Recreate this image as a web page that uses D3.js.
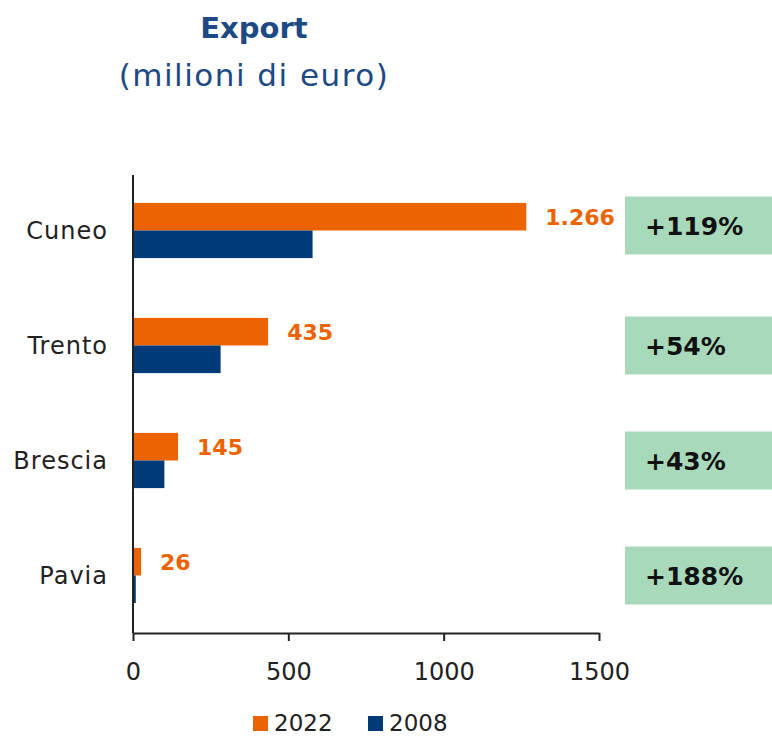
<!DOCTYPE html>
<html>
<head>
<meta charset="utf-8">
<script src="https://cdn.jsdelivr.net/npm/d3@7"></script>
<style>
  body { margin: 0; background: #fff; }
  svg text { font-family: "DejaVu Sans", sans-serif; }
</style>
</head>
<body>
<svg width="772" height="736"></svg>
<script>
let province = ["Cuneo", "Trento", "Brescia", "Pavia"];
let export2022 = [1266, 435, 145, 26];
let export2008 = [578, 282, 101, 9];
let valueLabels = ["1.266", "435", "145", "26"];
let growth = ["+119%", "+54%", "+43%", "+188%"];
let xTicks = [0, 500, 1000, 1500];
let series = ["2022", "2008"];
let colors = {"2022": "#ec6401", "2008": "#003a78"};

let svg = d3.select("svg");

let x = d3.scaleLinear().domain([0, 1500]).range([133, 599]);
let y = d3.scaleBand().domain(province).range([173, 633]).paddingInner(0.52).paddingOuter(0.26);
let sub = d3.scaleBand().domain(series).range([0, y.bandwidth()]);

// title
svg.append("text").attr("x", 254).attr("y", 38)
  .attr("text-anchor", "middle").style("font-size", "29px").style("font-weight", "bold")
  .style("fill", "#1d4a84").text("Export");
svg.append("text").attr("x", 254).attr("y", 86)
  .attr("text-anchor", "middle").style("font-size", "31px").style("letter-spacing", "1.5px")
  .style("fill", "#1d4a84").text("(milioni di euro)");

// green boxes with growth
let rows = province.map((p, i) => ({p: p, v22: export2022[i], v08: export2008[i], lab: valueLabels[i], g: growth[i]}));

let g = svg.append("g");
g.selectAll("rect.box").data(rows).join("rect")
  .attr("class", "box")
  .attr("x", 625).attr("width", 150)
  .attr("y", d => y(d.p) + y.bandwidth()/2 - 29 - (d.p == "Cuneo" ? 5 : 0))
  .attr("height", 58)
  .style("fill", "#a9d9bb");
g.selectAll("text.pct").data(rows).join("text")
  .attr("class", "pct")
  .attr("x", 645)
  .attr("y", d => y(d.p) + y.bandwidth()/2 - (d.p == "Cuneo" ? 5 : 0))
  .attr("dy", "0.36em")
  .style("font-size", "25px").style("font-weight", "bold").style("fill", "#111")
  .text(d => d.g);

// bars
g.selectAll("rect.b22").data(rows).join("rect")
  .attr("class", "b22")
  .attr("x", x(0)).attr("y", d => y(d.p) + sub("2022"))
  .attr("width", d => x(d.v22) - x(0)).attr("height", sub.bandwidth())
  .style("fill", colors["2022"]);
g.selectAll("rect.b08").data(rows).join("rect")
  .attr("class", "b08")
  .attr("x", x(0)).attr("y", d => y(d.p) + sub("2008"))
  .attr("width", d => x(d.v08) - x(0)).attr("height", sub.bandwidth())
  .style("fill", colors["2008"]);

// value labels
g.selectAll("text.val").data(rows).join("text")
  .attr("class", "val")
  .attr("x", d => x(d.v22) + 19)
  .attr("y", d => y(d.p) + sub("2022") + sub.bandwidth()/2)
  .attr("dy", "0.36em")
  .style("font-size", "22px").style("font-weight", "bold").style("fill", colors["2022"])
  .text(d => d.lab);

// category labels
g.selectAll("text.cat").data(rows).join("text")
  .attr("class", "cat")
  .attr("x", 108).attr("y", d => y(d.p) + y.bandwidth()/2)
  .attr("dy", "0.36em").attr("text-anchor", "end")
  .style("font-size", "24px").style("letter-spacing", "1px").style("fill", "#222")
  .text(d => d.p);

// axes
svg.append("line").attr("x1", x(0)).attr("x2", x(0)).attr("y1", 175).attr("y2", 633)
  .style("stroke", "#222").style("stroke-width", 2);

let xAxis = svg.append("g").attr("transform", "translate(0,633)")
  .call(d3.axisBottom(x).tickValues(xTicks).tickFormat(d3.format("d"))
    .tickSize(8).tickPadding(22).tickSizeOuter(0));
xAxis.select(".domain").style("stroke", "#222").style("stroke-width", 2);
xAxis.selectAll(".tick line").style("stroke", "#222").style("stroke-width", 2);
xAxis.selectAll(".tick text").style("font-size", "24px").style("fill", "#222")
  .style("font-family", "'DejaVu Sans', sans-serif");

// legend
let leg = svg.append("g").selectAll("g").data(series).join("g")
  .attr("transform", (d, i) => `translate(${253 + i*115},716)`);
leg.append("rect").attr("width", 15).attr("height", 15).style("fill", d => colors[d]);
leg.append("text").attr("x", 21).attr("y", 15)
  .style("font-size", "23px").style("fill", "#222").text(d => d);
</script>
</body>
</html>
